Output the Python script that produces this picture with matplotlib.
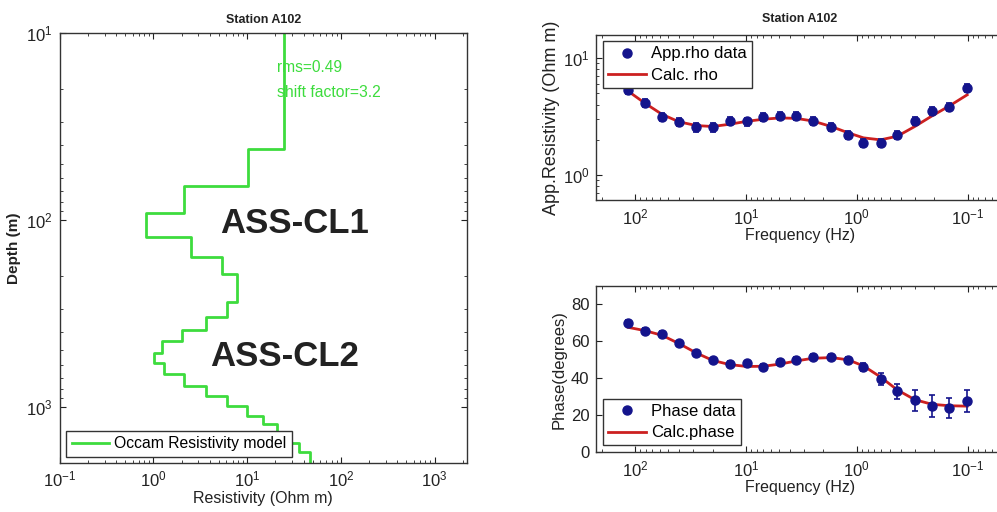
import numpy as np
import matplotlib
matplotlib.use("Agg")
import matplotlib.pyplot as plt
from matplotlib.ticker import FixedLocator
from matplotlib.lines import Line2D

plt.rcParams['font.family'] = ['Liberation Sans', 'DejaVu Sans']
plt.rcParams['mathtext.fontset'] = 'custom'
plt.rcParams['mathtext.rm'] = 'Liberation Sans'
plt.rcParams['mathtext.it'] = 'Liberation Sans:italic'
plt.rcParams['mathtext.bf'] = 'Liberation Sans:bold'

# ---------------- data ----------------
# Occam model: resistivity of each layer and depth of each layer boundary
model_res = [24.6, 10.2, 2.1, 0.84, 2.5, 5.4, 7.8, 6.1, 3.6, 2.04, 1.22, 1.02,
             1.29, 2.1, 3.6, 6.1, 10.0, 14.8, 21.0, 29.0, 36.0, 47.0]
model_depth = [10, 42, 66, 92, 123, 158, 194, 276, 330, 390, 444, 515, 580,
               670, 775, 875, 990, 1120, 1240, 1410, 1560, 1740, 2000]

freq = [115, 81, 57, 40, 28, 20, 14, 9.8, 7.0, 4.9, 3.5, 2.5, 1.7, 1.2,
        0.87, 0.61, 0.43, 0.30, 0.21, 0.146, 0.101]
rho_data = [5.35, 4.17, 3.16, 2.83, 2.56, 2.56, 2.92, 2.87, 3.16, 3.2, 3.2,
            2.92, 2.6, 2.2, 1.89, 1.89, 2.2, 2.92, 3.56, 3.85, 5.53]
rho_err_frac = [0.08] * 21
rho_calc = [5.2, 4.1, 3.3, 2.85, 2.65, 2.6, 2.72, 2.88, 3.0, 3.08, 3.05,
            2.9, 2.6, 2.3, 2.08, 2.0, 2.15, 2.6, 3.2, 3.9, 4.85]
phase_data = [69.6, 65.3, 63.8, 58.8, 53.4, 49.5, 47.7, 48.0, 45.9, 48.6, 49.8,
              51.3, 51.3, 49.8, 45.9, 39.6, 32.7, 27.9, 25.0, 24.0, 27.5]
phase_err = [1.4, 1.4, 1.4, 1.4, 1.4, 1.4, 1.4, 1.4, 1.4, 1.4, 1.4,
             1.4, 1.4, 1.4, 2.0, 3.2, 4.0, 5.6, 6.0, 5.4, 6.0]
phase_calc = [67.3, 65.5, 63.0, 58.5, 53.5, 49.5, 47.2, 46.2, 46.3, 47.5, 49.2,
              50.6, 51.0, 49.8, 46.5, 40.5, 33.5, 28.3, 25.8, 25.0, 24.8]

GREEN = '#3ddc3d'
NAVY = '#14148c'
RED = '#cc2020'
TXT = '#222222'

fig = plt.figure(figsize=(9.97, 5.12), dpi=100)

def style(ax):
    ax.tick_params(which='both', direction='in', top=True, right=True,
                   labelsize=12, colors=TXT)
    ax.tick_params(which='major', length=4, pad=5)
    ax.tick_params(which='minor', length=2)
    for s in ax.spines.values():
        s.set_linewidth(1.0)
        s.set_color('#333333')

def make_legend(ax, handles, loc, fs=12, **kw):
    leg = ax.legend(handles=handles, loc=loc, fontsize=fs, fancybox=False, framealpha=1,
                    edgecolor='#333333', handletextpad=0.3, **kw)
    leg.get_frame().set_linewidth(1.0)
    return leg

# ---------------- left: model ----------------
ax1 = fig.add_axes([0.060, 0.0957, 0.408, 0.84])
xs, ys = [], []
for i, r in enumerate(model_res):
    xs += [r, r]
    ys += [model_depth[i], model_depth[i + 1]]
ax1.plot(xs, ys, color=GREEN, lw=2)
ax1.set_xscale('log')
ax1.set_yscale('log')
ax1.set_xlim(0.1, 2200)
ax1.set_ylim(2000, 10)
ax1.xaxis.set_major_locator(FixedLocator([0.1, 1, 10, 100, 1000]))
ax1.yaxis.set_major_locator(FixedLocator([10, 100, 1000]))
style(ax1)
ax1.set_title('Station A102', fontsize=9, fontweight='bold', color=TXT, pad=7)
ax1.set_xlabel('Resistivity (Ohm m)', fontsize=11.5, color=TXT, labelpad=1)
ax1.set_ylabel('Depth (m)', fontsize=11, color=TXT, fontweight='bold', labelpad=4)
ax1.text(0.535, 0.908, 'rms=0.49', transform=ax1.transAxes, color=GREEN, fontsize=11.2)
ax1.text(0.535, 0.851, 'shift factor=3.2', transform=ax1.transAxes, color=GREEN, fontsize=11.3)
ax1.text(0.577, 0.558, 'ASS-CL1', transform=ax1.transAxes, fontsize=25, fontweight='bold',
         color=TXT, ha='center', va='center')
ax1.text(0.553, 0.247, 'ASS-CL2', transform=ax1.transAxes, fontsize=25, fontweight='bold',
         color=TXT, ha='center', va='center')
h_model = Line2D([], [], color=GREEN, lw=2, label='Occam Resistivity model')
make_legend(ax1, [h_model], 'lower left', fs=11.3, handlelength=2.4,
            borderpad=0.35, borderaxespad=0.4)

# ---------------- right top: apparent resistivity ----------------
ax2 = fig.add_axes([0.598, 0.609, 0.408, 0.323])
rho_arr = np.array(rho_data)
err = rho_arr * np.array(rho_err_frac)
ax2.errorbar(freq, rho_data, yerr=err, fmt='o', color=NAVY, ms=6.5, capsize=2.5,
             elinewidth=1.2, capthick=1.2, zorder=3)
ax2.plot(freq, rho_calc, color=RED, lw=2, zorder=2)
ax2.set_xscale('log')
ax2.set_yscale('log')
ax2.set_xlim(224, 0.048)
ax2.set_ylim(0.61, 15.8)
ax2.xaxis.set_major_locator(FixedLocator([100, 10, 1, 0.1]))
ax2.yaxis.set_major_locator(FixedLocator([1, 10]))
style(ax2)
ax2.set_title('Station A102', fontsize=9, fontweight='bold', color=TXT, pad=9)
ax2.set_xlabel('Frequency (Hz)', fontsize=11.5, color=TXT, labelpad=1)
ax2.set_ylabel('App.Resistivity (Ohm m)', fontsize=13, color=TXT, labelpad=2)
h1 = Line2D([], [], marker='o', ls='none', color=NAVY, ms=6.5, label='App.rho data')
h2 = Line2D([], [], color=RED, lw=2, label='Calc. rho')
make_legend(ax2, [h1, h2], 'upper left', handlelength=2.3, borderpad=0.3,
            labelspacing=0.4, borderaxespad=0.4)

# ---------------- right bottom: phase ----------------
ax3 = fig.add_axes([0.598, 0.117, 0.408, 0.324])
ax3.errorbar(freq, phase_data, yerr=phase_err, fmt='o', color=NAVY, ms=6.5, capsize=2.5,
             elinewidth=1.2, capthick=1.2, zorder=3)
ax3.plot(freq, phase_calc, color=RED, lw=2, zorder=2)
ax3.set_xscale('log')
ax3.set_xlim(224, 0.048)
ax3.set_ylim(0, 89.5)
ax3.xaxis.set_major_locator(FixedLocator([100, 10, 1, 0.1]))
ax3.set_yticks([0, 20, 40, 60, 80])
style(ax3)
ax3.set_xlabel('Frequency (Hz)', fontsize=11.5, color=TXT, labelpad=1)
ax3.set_ylabel('Phase(degrees)', fontsize=12, color=TXT, labelpad=3)
h3 = Line2D([], [], marker='o', ls='none', color=NAVY, ms=6.5, label='Phase data')
h4 = Line2D([], [], color=RED, lw=2, label='Calc.phase')
make_legend(ax3, [h3, h4], 'lower left', handlelength=2.3, borderpad=0.3,
            labelspacing=0.4, borderaxespad=0.4)

fig.savefig('out.png', dpi=100)
